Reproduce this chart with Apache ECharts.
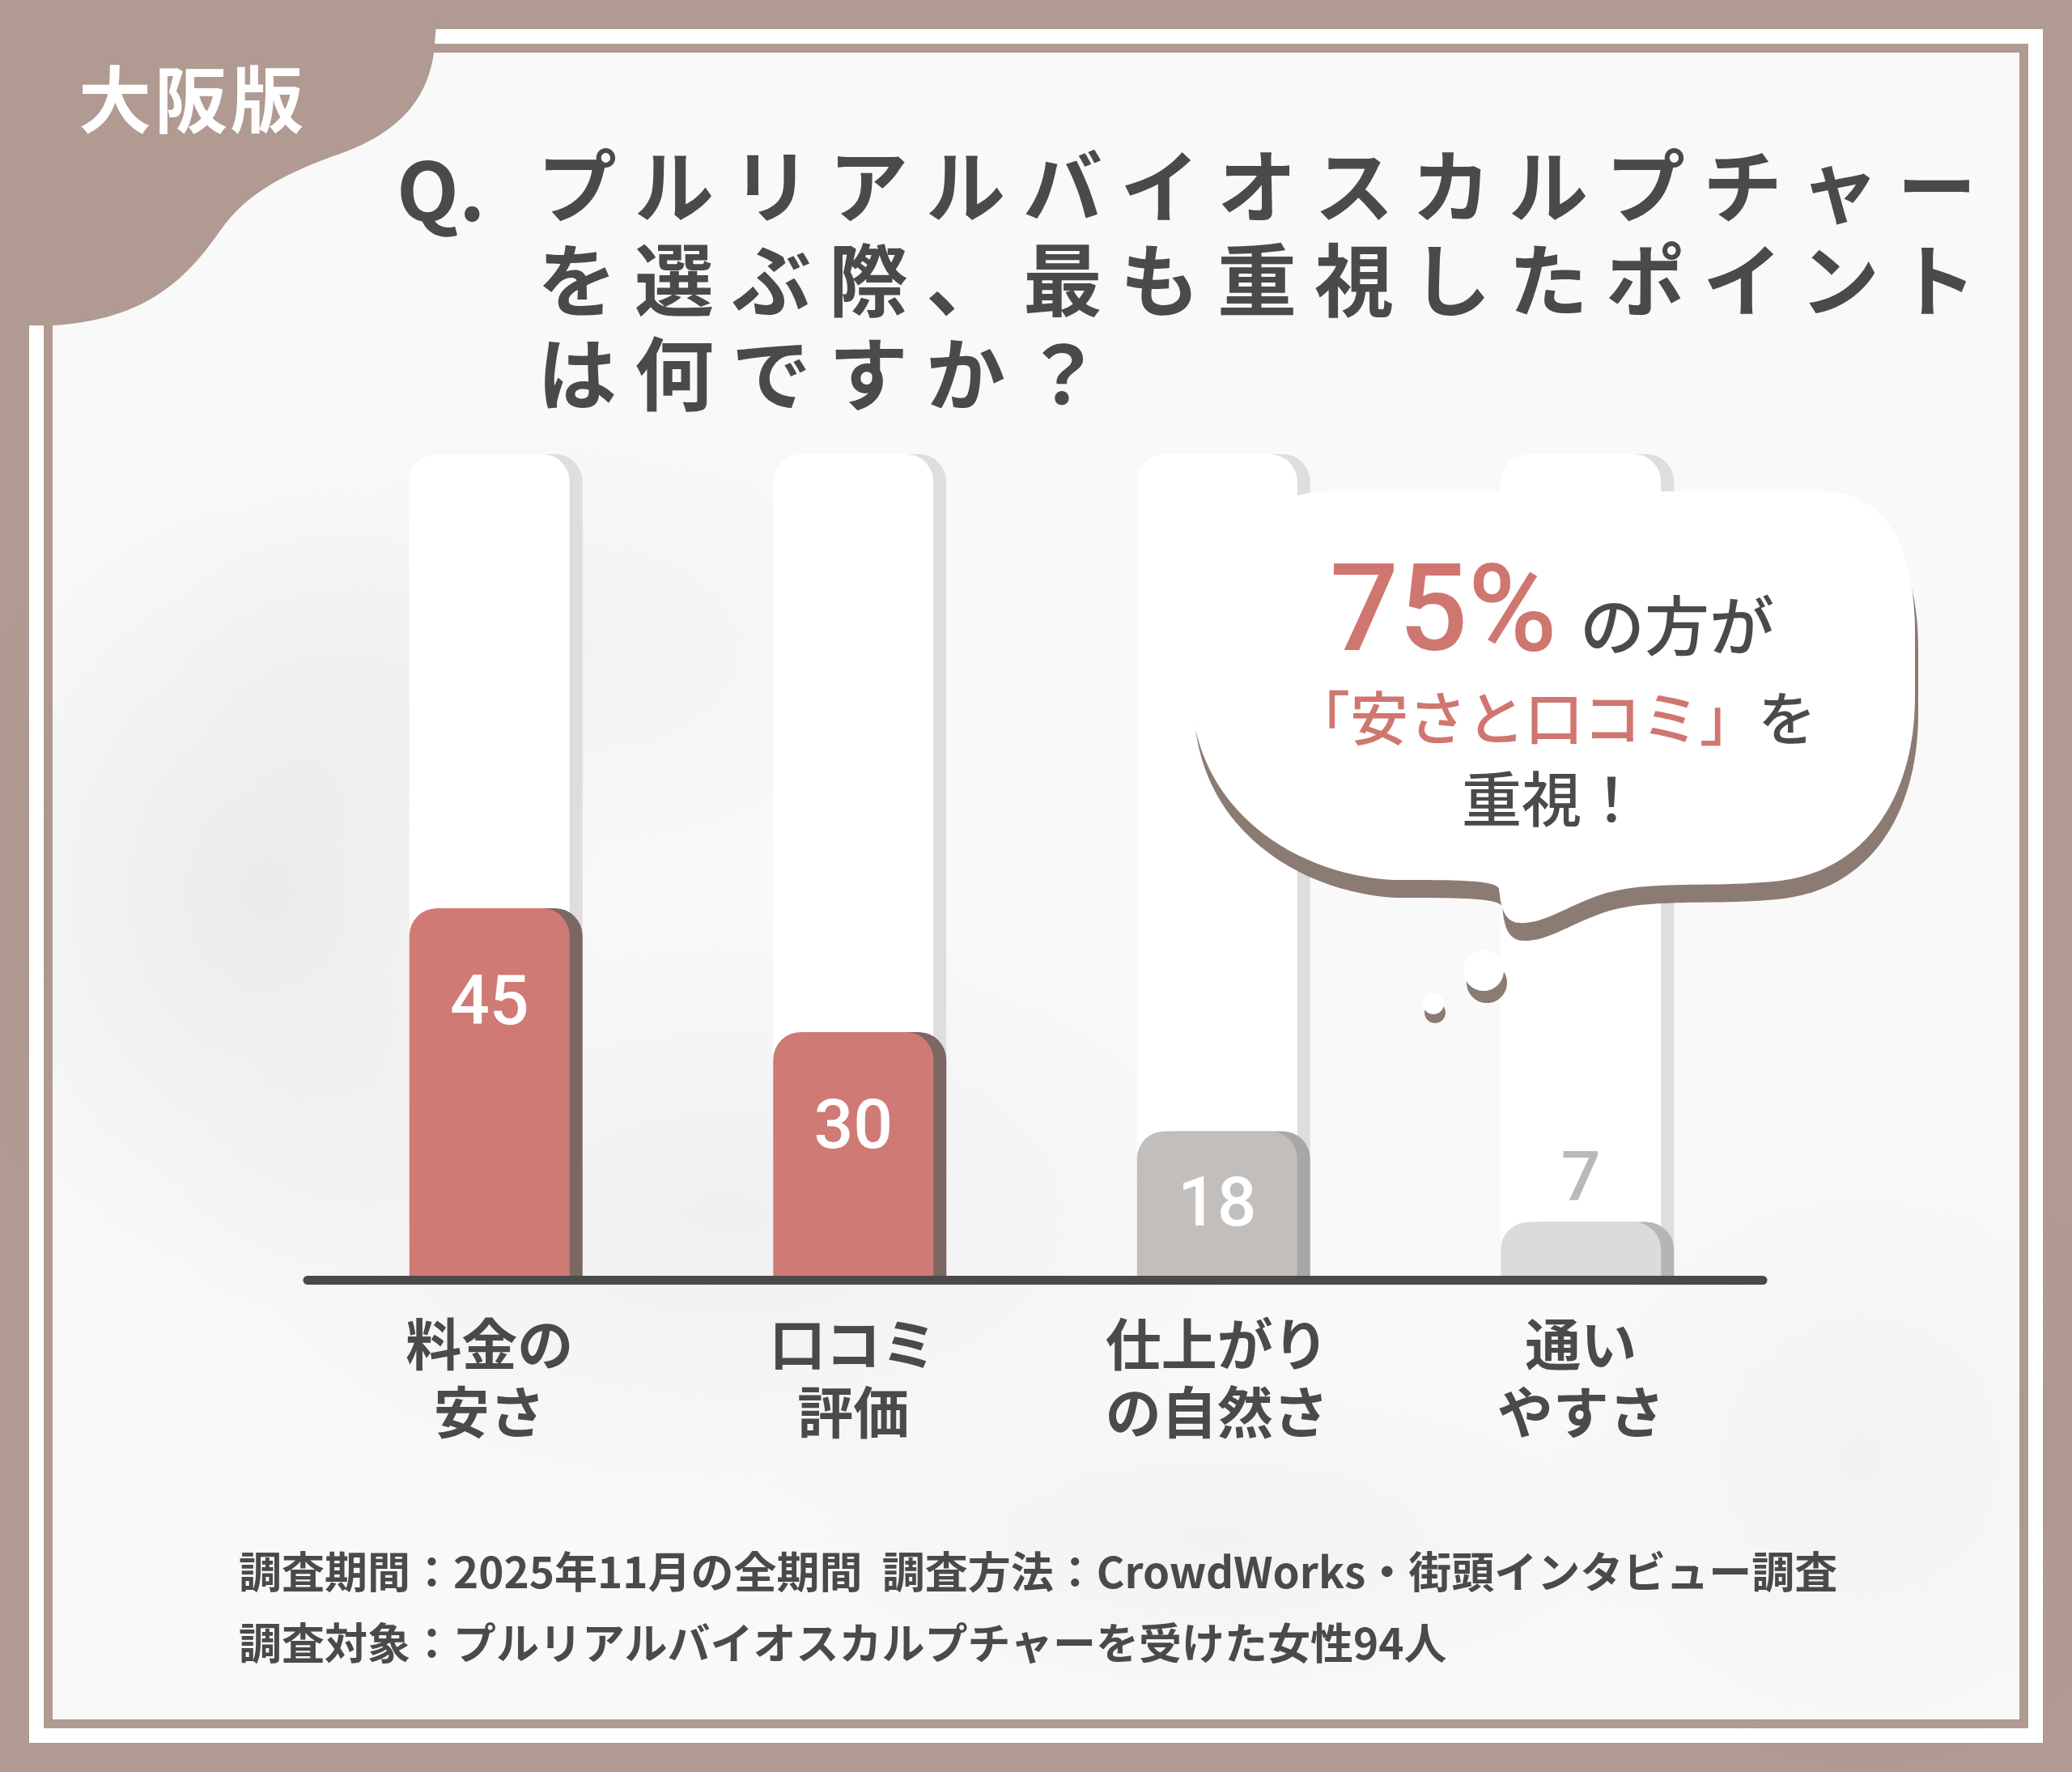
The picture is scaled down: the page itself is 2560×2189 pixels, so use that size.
<!DOCTYPE html>
<html><head><meta charset="utf-8">
<script src="https://cdn.jsdelivr.net/npm/echarts@6/dist/echarts.min.js"></script>
<style>html,body{margin:0;padding:0;background:#b09a91}#c{width:2560px;height:2189px}</style>
</head><body><div id="c"></div>
<script>
// ---- data ----
const categories = ['料金の\n安さ', '口コミ\n評価', '仕上がり\nの自然さ', '通い\nやすさ'];
const values = [45, 30, 18, 7];
const trackMax = 100;
const badgeText = '大阪版';
const titleQ = 'Q.';
const titleLines = ['プルリアルバイオスカルプチャー', 'を選ぶ際、最も重視したポイント', 'は何ですか？'];
const calloutPct = '75%';
const calloutLine1 = 'の方が';
const calloutRed = '「安さと口コミ」';
const calloutLine2 = 'を';
const calloutLine3 = '重視！';
const footerLines = [
  '調査期間：2025年11月の全期間  調査方法：CrowdWorks・街頭インタビュー調査',
  '調査対象：プルリアルバイオスカルプチャーを受けた女性94人'
];

// ---- styles ----
const JP = '"Noto Sans CJK JP", "Noto Sans", sans-serif';
const JP_TIGHT = 'Roboto, "Noto Sans CJK JP", sans-serif';
const DARK = '#4a4a4a';
const RED = '#d07670';
const BROWN = '#b09a91';
const barColors = ['#cf7a74', '#cf7a74', '#c1bebc', '#dcdbdb'];
const barShadows = ['#7b6863', '#7b6863', '#a9a7a6', '#b5b5b5'];
const labelColors = ['#ffffff', '#ffffff', '#ffffff', '#b9b9b9'];
const labelPos = [113, 113, 87, -56];

function spaced(str, key) {
  return str.split('').map(c => '{' + key + '|' + c + '}').join('');
}

const BUBBLE = 'M1471 845 C1471 715 1525 607 1645 607 L2250 607 C2330 607 2366 675 2366 780 L2366 860 ' +
  'C2366 985 2305 1075 2200 1088 C2110 1098 2030 1085 1970 1108 C1930 1123 1905 1142 1876 1140 ' +
  'C1856 1138 1854 1115 1852 1098 C1848 1087 1800 1087 1720 1087 C1600 1080 1471 1000 1471 845 Z';
const BADGE = 'M540 20 L536 65 C528 125 490 165 420 190 C340 218 300 245 272 285 C230 345 180 395 65 402 L20 402 L20 20 Z';
echarts.graphic.registerShape('bubbleShape', echarts.graphic.extendPath(BUBBLE, {}));
echarts.graphic.registerShape('badgeShape', echarts.graphic.extendPath(BADGE, {}));

const chart = echarts.init(document.getElementById('c'), null, {renderer: 'svg', width: 2560, height: 2189});

function blob(cx, cy, rx, ry, a) {
  return {type: 'ellipse', z: -9, silent: true, shape: {cx, cy, rx, ry},
    style: {fill: new echarts.graphic.RadialGradient(0.5, 0.5, 0.5, [
      {offset: 0, color: 'rgba(120,120,120,' + a + ')'}, {offset: 1, color: 'rgba(120,120,120,0)'}])}};
}

const data = values.map((v, i) => ({
  value: v,
  itemStyle: {color: barColors[i], shadowColor: barShadows[i]},
  label: {color: labelColors[i], position: ['50%', labelPos[i]]}
}));

const option = {
  backgroundColor: BROWN,
  animation: false,
  grid: {left: 380, right: 382, top: 561, bottom: 608, containLabel: false, outerBoundsMode: 'none'},
  xAxis: {
    type: 'category', data: categories, z: 5,
    axisLine: {lineStyle: {color: DARK, width: 11}},
    axisTick: {show: false},
    axisLabel: {fontFamily: JP_TIGHT, fontSize: 69, fontWeight: 'bold', color: DARK, lineHeight: 84, margin: 40}
  },
  yAxis: {type: 'value', min: 0, max: trackMax, show: false, splitLine: {show: false}},
  series: [{
    type: 'bar', data, barWidth: 198,
    itemStyle: {borderRadius: [34, 34, 0, 0], shadowBlur: 0, shadowOffsetX: 16, shadowOffsetY: 0},
    showBackground: true,
    backgroundStyle: {color: '#ffffff', borderRadius: [34, 34, 0, 0], shadowColor: '#dedede', shadowBlur: 0, shadowOffsetX: 16},
    label: {show: true, fontFamily: 'Roboto', fontWeight: 500, fontSize: 86, align: 'center', verticalAlign: 'middle'}
  }],
  graphic: [
    // panel
    {type: 'rect', z: -10, silent: true, shape: {x: 65, y: 65, width: 2430, height: 2059}, style: {fill: '#f9f9f9'}},
    blob(330, 1100, 420, 520, 0.11),
    blob(900, 1500, 700, 380, 0.07),
    blob(700, 800, 500, 300, 0.05),
    blob(2300, 1800, 400, 400, 0.05),
    blob(1500, 1900, 600, 220, 0.05),
    {type: 'rect', z: -8, silent: true, shape: {x: 45, y: 45, width: 2470, height: 2099}, style: {fill: 'none', stroke: '#ffffff', lineWidth: 18}},
    // badge
    {type: 'badgeShape', z: 30, silent: true, style: {fill: BROWN}},
    {type: 'text', z: 31, x: 236, y: 118, style: {text: spaced(badgeText, 'b'), align: 'center', verticalAlign: 'middle',
      rich: {b: {fontFamily: JP, fontSize: 90, lineHeight: 90, fontWeight: 'bold', fill: '#ffffff', padding: [0, 2, 0, 2]}}}},
    // title
    {type: 'text', z: 31, x: 490, y: 229, style: {text: titleQ, fontFamily: JP, fontSize: 100, lineHeight: 100, fontWeight: 'bold', fill: DARK, align: 'left', verticalAlign: 'middle'}},
    ...titleLines.map((t, i) => ({type: 'text', z: 31, x: 653, y: 233 + i * 116,
      style: {text: spaced(t, 'c'), align: 'left', verticalAlign: 'middle',
        rich: {c: {fontFamily: JP_TIGHT, fontSize: 98, lineHeight: 98, fontWeight: 'bold', fill: DARK, padding: [0, 11, 0, 11]}}}})),
    // callout bubble
    {type: 'bubbleShape', z: 20, silent: true, x: 4, y: 22, style: {fill: '#8c7b73'}},
    {type: 'bubbleShape', z: 21, silent: true, style: {fill: '#ffffff'}},
    {type: 'circle', z: 20, silent: true, shape: {cx: 1837, cy: 1214, r: 25}, style: {fill: '#8c7b73'}},
    {type: 'circle', z: 21, silent: true, shape: {cx: 1833, cy: 1199, r: 25}, style: {fill: '#ffffff'}},
    {type: 'circle', z: 20, silent: true, shape: {cx: 1773, cy: 1251, r: 13}, style: {fill: '#8c7b73'}},
    {type: 'circle', z: 21, silent: true, shape: {cx: 1771, cy: 1240, r: 13}, style: {fill: '#ffffff'}},
    {type: 'text', z: 22, x: 1924, y: 752, style: {text: calloutPct, fontFamily: 'Roboto', fontSize: 150, lineHeight: 150, fontWeight: 500, fill: RED, align: 'right', verticalAlign: 'middle'}},
    {type: 'text', z: 22, x: 1952, y: 776, style: {text: calloutLine1, fontFamily: JP_TIGHT, fontSize: 80, lineHeight: 80, fontWeight: 500, fill: DARK, align: 'left', verticalAlign: 'middle'}},
    {type: 'text', z: 22, x: 1920, y: 889, style: {text: '{r|' + calloutRed + '}{d|' + calloutLine2 + '}', align: 'center', verticalAlign: 'middle',
      rich: {r: {fontFamily: JP_TIGHT, fontSize: 72, lineHeight: 72, fontWeight: 500, fill: RED}, d: {fontFamily: JP_TIGHT, fontSize: 72, lineHeight: 72, fontWeight: 500, fill: DARK}}}},
    {type: 'text', z: 22, x: 1917, y: 989, style: {text: calloutLine3, fontFamily: JP_TIGHT, fontSize: 74, lineHeight: 74, fontWeight: 500, fill: DARK, align: 'center', verticalAlign: 'middle'}},
    // footer
    ...footerLines.map((t, i) => ({type: 'text', z: 31, x: 295, y: 1939 + i * 88,
      style: {text: t, fontFamily: JP, fontSize: 53, lineHeight: 53, fontWeight: 'bold', fill: DARK, align: 'left', verticalAlign: 'middle'}}))
  ]
};
chart.setOption(option);
</script></body></html>
